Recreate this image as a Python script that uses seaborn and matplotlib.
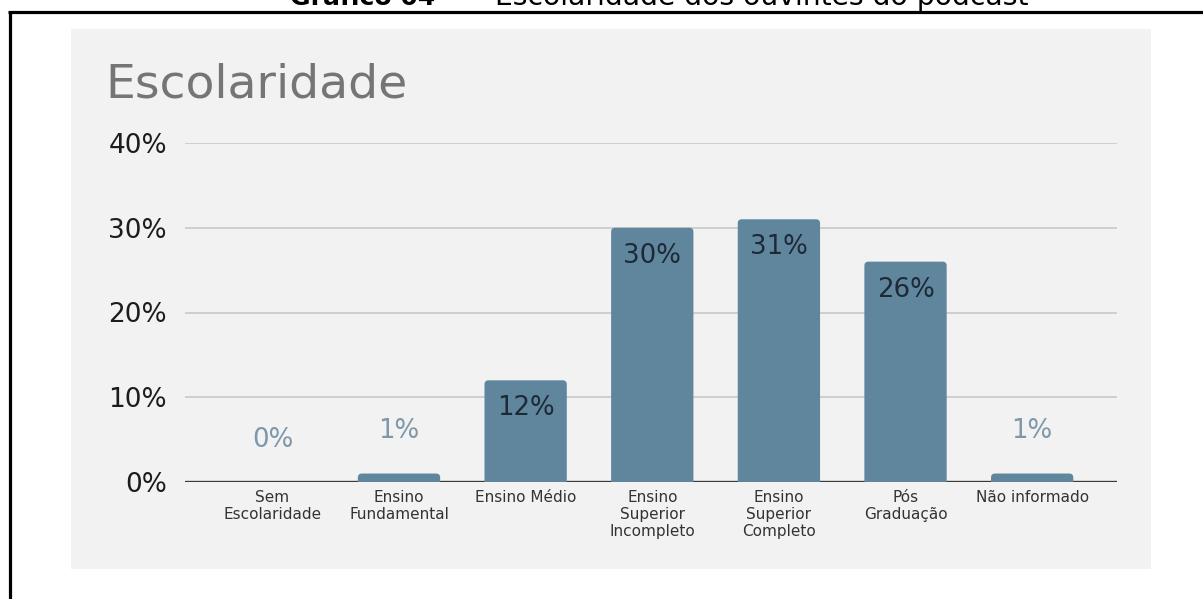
import matplotlib
matplotlib.use("Agg")
import matplotlib.pyplot as plt
from matplotlib.patches import Rectangle, FancyBboxPatch
from matplotlib.lines import Line2D
import seaborn as sns

# Education level of podcast listeners (percent)
categorias = [
    "Sem\nEscolaridade",
    "Ensino\nFundamental",
    "Ensino Médio",
    "Ensino\nSuperior\nIncompleto",
    "Ensino\nSuperior\nCompleto",
    "Pós\nGraduação",
    "Não informado",
]
valores = [0, 1, 12, 30, 31, 26, 1]
yticks = [0, 10, 20, 30, 40]
ytick_labels = ["0%", "10%", "20%", "30%", "40%"]

titulo_doc_bold = "Gráfico 04"
titulo_doc_resto = "Escolaridade dos ouvintes do podcast"
titulo_grafico = "Escolaridade"

sns.set_style("white")
plt.rcParams["font.family"] = ["DejaVu Sans"]

W, H = 1203, 599
fig = plt.figure(figsize=(W / 100, H / 100), dpi=100)
fig.patch.set_facecolor("white")


def fx(px):
    return px / W


def fy(py):
    return (H - py) / H


# light grey card behind the chart
fig.patches.append(Rectangle((fx(71), fy(569)), fx(1151) - fx(71), fy(29) - fy(569),
                             transform=fig.transFigure, facecolor="#f2f2f2",
                             edgecolor="none", zorder=-5))

# document frame (left and top rules)
fig.add_artist(Line2D([fx(9.5), fx(9.5)], [fy(599), fy(11.5)], transform=fig.transFigure,
                      color="black", linewidth=2.3, solid_capstyle="butt"))
fig.add_artist(Line2D([fx(8), fx(1203)], [fy(11.5), fy(11.5)], transform=fig.transFigure,
                      color="black", linewidth=2.3, solid_capstyle="butt"))

# document caption, running off the top edge
fig.text(fx(290), fy(5), titulo_doc_bold, fontsize=18, fontweight="bold",
         ha="left", va="baseline", color="black")
fig.text(fx(462), fy(5), "–", fontsize=18, ha="center", va="baseline", color="black")
fig.text(fx(495), fy(5), titulo_doc_resto, fontsize=20.3, ha="left", va="baseline",
         color="black")

# chart title
fig.text(fx(105), fy(98), titulo_grafico, fontsize=34, ha="left", va="baseline",
         color="#757575")

ax = fig.add_axes([fx(185), fy(482), fx(1117) - fx(185), fy(143) - fy(482)])
ax.set_facecolor("none")
ax.set_zorder(1)

bar_color = "#60869e"
sns.barplot(x=categorias, y=valores, color=bar_color, saturation=1, width=0.65, ax=ax)

ax.set_xlim(-0.69, 6.67)
ax.set_ylim(0, 40)

# rounded tops on the bars
r = 0.032
aspect = 126.5 / 8.475
for p in list(ax.patches):
    x0, w, h = p.get_x(), p.get_width(), p.get_height()
    p.remove()
    if h <= 0:
        continue
    fb = FancyBboxPatch((x0, -1.0), w, h + 1.0,
                        boxstyle=f"round,pad=0,rounding_size={r}",
                        mutation_aspect=aspect, facecolor=bar_color,
                        edgecolor="none", zorder=2)
    ax.add_patch(fb)

ax.set_yticks(yticks)
ax.set_yticklabels(ytick_labels)
ax.yaxis.grid(True, color="#c8c8c8", linewidth=1.2)
ax.xaxis.grid(False)
ax.set_axisbelow(True)
for s in ax.spines.values():
    s.set_visible(False)
ax.axhline(0, color="#3a3a3a", linewidth=2.4, zorder=1)

ax.tick_params(axis="y", length=0, pad=13, labelsize=19, labelcolor="#1c1c1c")
ax.tick_params(axis="x", length=0, pad=6, labelsize=11, labelcolor="#333333")
for lbl in ax.get_xticklabels():
    lbl.set_linespacing(1.15)
ax.set_xlabel("")
ax.set_ylabel("")

# value labels: inside tall bars, above short ones
for i, v in enumerate(valores):
    if v >= 5:
        ax.text(i, v - 3.3, f"{v}%", ha="center", va="center", fontsize=18.7,
                color="#1d2a36", zorder=3)
    else:
        ax.text(i, v + 5.0, f"{v}%", ha="center", va="center", fontsize=18.7,
                color="#7d98aa", zorder=3)

fig.savefig("out.png", dpi=100)
